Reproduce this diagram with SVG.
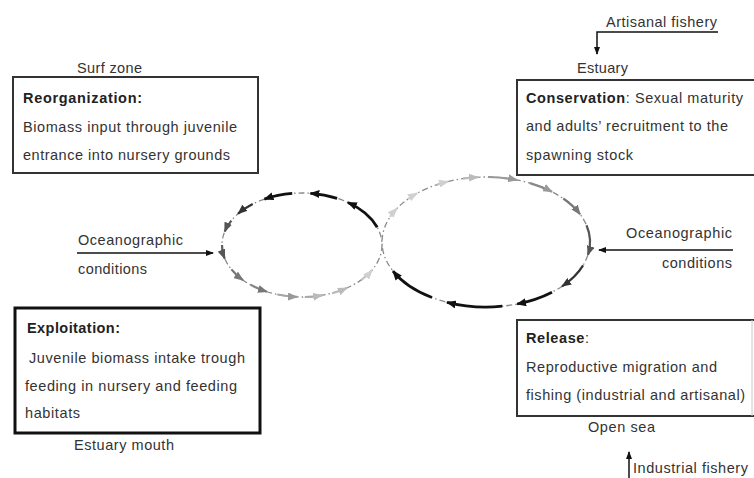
<svg xmlns="http://www.w3.org/2000/svg" width="754" height="478" viewBox="0 0 754 478">
<style>
text{font-family:"Liberation Sans",Arial,sans-serif;font-size:14.5px;fill:#333}
.b{font-weight:bold;fill:#222}
.box{fill:none;stroke:#333;stroke-width:2}
.base{fill:none;stroke:#8a8a8a;stroke-width:1.3;stroke-dasharray:6 3 1.5 3}
.a{fill:none;stroke-width:2.2}
.t{stroke-width:2.8}
.ext{fill:none;stroke:#111;stroke-width:1.5}
</style>
<defs>
<marker id="mk" viewBox="0 0 10 8" refX="9" refY="4" markerWidth="10" markerHeight="8" markerUnits="userSpaceOnUse" orient="auto"><path d="M0,0L10,4L0,8z" fill="#111"/></marker>
<marker id="me" viewBox="0 0 8 6" refX="7" refY="3" markerWidth="8" markerHeight="6" markerUnits="userSpaceOnUse" orient="auto"><path d="M0,0L8,3L0,6z" fill="#111"/></marker>
<marker id="m3" viewBox="0 0 10 8" refX="9" refY="4" markerWidth="10" markerHeight="8" markerUnits="userSpaceOnUse" orient="auto"><path d="M0,0L10,4L0,8z" fill="#333"/></marker>
<marker id="m5" viewBox="0 0 10 8" refX="9" refY="4" markerWidth="10" markerHeight="8" markerUnits="userSpaceOnUse" orient="auto"><path d="M0,0L10,4L0,8z" fill="#555"/></marker>
<marker id="m7" viewBox="0 0 10 8" refX="9" refY="4" markerWidth="10" markerHeight="8" markerUnits="userSpaceOnUse" orient="auto"><path d="M0,0L10,4L0,8z" fill="#777"/></marker>
<marker id="m9" viewBox="0 0 10 8" refX="9" refY="4" markerWidth="10" markerHeight="8" markerUnits="userSpaceOnUse" orient="auto"><path d="M0,0L10,4L0,8z" fill="#999"/></marker>
<marker id="mb" viewBox="0 0 10 8" refX="9" refY="4" markerWidth="10" markerHeight="8" markerUnits="userSpaceOnUse" orient="auto"><path d="M0,0L10,4L0,8z" fill="#bbb"/></marker>
<marker id="md" viewBox="0 0 10 8" refX="9" refY="4" markerWidth="10" markerHeight="8" markerUnits="userSpaceOnUse" orient="auto"><path d="M0,0L10,4L0,8z" fill="#d0d0d0"/></marker>
</defs>

<g id="node-reorganization">
<rect class="box" x="13" y="77" width="245" height="96"/>
<text x="77" y="73" textLength="65" lengthAdjust="spacing">Surf zone</text>
<text class="b" x="23" y="103" textLength="119" lengthAdjust="spacing">Reorganization:</text>
<text x="23" y="132" textLength="214" lengthAdjust="spacing">Biomass input through juvenile</text>
<text x="23" y="160" textLength="207" lengthAdjust="spacing">entrance into nursery grounds</text>
</g>

<g id="node-conservation">
<path class="box" d="M760,80H517V175H760"/>
<text x="577" y="73" textLength="51" lengthAdjust="spacing">Estuary</text>
<text x="526" y="103" textLength="217" lengthAdjust="spacing"><tspan class="b">Conservation</tspan>: Sexual maturity</text>
<text x="526" y="131" textLength="202" lengthAdjust="spacing">and adults’ recruitment to the</text>
<text x="526" y="160" textLength="107" lengthAdjust="spacing">spawning stock</text>
</g>

<g id="node-exploitation">
<rect x="15" y="308" width="245" height="125" fill="none" stroke="#111" stroke-width="3"/>
<text class="b" x="27" y="333" textLength="93" lengthAdjust="spacing">Exploitation:</text>
<text x="29" y="363" textLength="216" lengthAdjust="spacing">Juvenile biomass intake trough</text>
<text x="25" y="391" textLength="212" lengthAdjust="spacing">feeding in nursery and feeding</text>
<text x="25" y="418" textLength="55" lengthAdjust="spacing">habitats</text>
<text x="74" y="450" textLength="100" lengthAdjust="spacing">Estuary mouth</text>
</g>

<g id="node-release">
<path class="box" d="M760,320H517V416H760"/>
<line x1="752" y1="320" x2="752" y2="416" stroke="#c8c8c8" stroke-width="1"/>
<text x="526" y="343" textLength="63" lengthAdjust="spacing"><tspan class="b">Release</tspan>:</text>
<text x="526" y="372" textLength="191" lengthAdjust="spacing">Reproductive migration and</text>
<text x="526" y="400" textLength="219" lengthAdjust="spacing">fishing (industrial and artisanal)</text>
<text x="588" y="432" textLength="67" lengthAdjust="spacing">Open sea</text>
</g>

<g id="node-ocean-left">
<text x="78" y="245" textLength="105" lengthAdjust="spacing">Oceanographic</text>
<text x="78" y="274" textLength="69" lengthAdjust="spacing">conditions</text>
</g>
<g id="node-ocean-right">
<text x="626" y="238" textLength="106" lengthAdjust="spacing">Oceanographic</text>
<text x="662" y="268" textLength="70" lengthAdjust="spacing">conditions</text>
</g>
<g id="node-artisanal">
<text x="606" y="27" textLength="111" lengthAdjust="spacing">Artisanal fishery</text>
</g>
<g id="node-industrial">
<text x="633" y="473" textLength="115" lengthAdjust="spacing">Industrial fishery</text>
</g>

<g id="connectors">
<line class="ext" x1="77" y1="253" x2="213" y2="253" marker-end="url(#me)"/>
<line class="ext" x1="733" y1="250" x2="599" y2="250" marker-end="url(#me)"/>
<path class="ext" d="M718,32H597V54" marker-end="url(#me)"/>
<line class="ext" x1="629" y1="478" x2="629" y2="452" marker-end="url(#me)"/>

<ellipse class="base" cx="302" cy="245" rx="80" ry="52"/>
<ellipse class="base" cx="486" cy="242" rx="104" ry="65"/>

<path class="a t" stroke="#111" marker-end="url(#mk)" d="M377.2,227.2A80 52 0 0 0 347.9,202.4"/>
<path class="a t" stroke="#111" marker-end="url(#mk)" d="M337.1,198.3A80 52 0 0 0 310.4,193.3"/>
<path class="a t" stroke="#111" marker-end="url(#mk)" d="M292.2,193.4A80 52 0 0 0 264.4,199.1"/>
<path class="a" stroke="#333" marker-end="url(#m3)" d="M252.7,204A80 52 0 0 0 238.1,213.7"/>
<path class="a" stroke="#555" marker-end="url(#m5)" d="M231.4,220.6A80 52 0 0 0 224.7,231.5"/>
<path class="a" stroke="#5f5f5f" marker-end="url(#m5)" d="M222,245A80 52 0 0 0 224.7,258.5"/>
<path class="a" stroke="#777" marker-end="url(#m7)" d="M231.4,269.4A80 52 0 0 0 243,280.1"/>
<path class="a" stroke="#888" marker-end="url(#m7)" d="M250.6,284.8A80 52 0 0 0 266.9,291.7"/>
<path class="a" stroke="#a5a5a5" stroke-width="1.6" marker-end="url(#m9)" d="M277.3,294.5A80 52 0 0 0 297,296.9"/>
<path class="a" stroke="#aaa" stroke-width="1.6" marker-end="url(#mb)" d="M304.8,297A80 52 0 0 0 322,295.3"/>
<path class="a" stroke="#bbb" stroke-width="1.6" marker-end="url(#mb)" d="M332,293.2A80 52 0 0 0 347,288"/>
<path class="a" stroke="#c4c4c4" stroke-width="1.6" marker-end="url(#md)" d="M361.4,279.8A80 52 0 0 0 372,270.2"/>

<path class="a" stroke="#d0d0d0" stroke-width="1.6" marker-end="url(#md)" d="M390,217A104 65 0 0 1 396.9,208.5"/>
<path class="a" stroke="#d0d0d0" stroke-width="1.6" marker-end="url(#md)" d="M408,199A104 65 0 0 1 417.1,193.3"/>
<path class="a" stroke="#c4c4c4" stroke-width="1.6" marker-end="url(#md)" d="M437.2,184.6A104 65 0 0 1 448,181.5"/>
<path class="a" stroke="#bbb" stroke-width="1.6" marker-end="url(#mb)" d="M463,178.6A104 65 0 0 1 478,177.2"/>
<path class="a" stroke="#999" marker-end="url(#m9)" d="M488,177A104 65 0 0 1 517.1,180"/>
<path class="a" stroke="#888" marker-end="url(#m9)" d="M530,183.1A104 65 0 0 1 552,191.8"/>
<path class="a" stroke="#777" marker-end="url(#m7)" d="M563.3,198.5A104 65 0 0 1 580,214.2"/>
<path class="a" stroke="#555" marker-end="url(#m5)" d="M586.5,225.2A104 65 0 0 1 588,254.9"/>
<path class="a" stroke="#333" marker-end="url(#m3)" d="M583.1,265.3A104 65 0 0 1 562.1,286.3"/>
<path class="a t" stroke="#111" marker-end="url(#mk)" d="M552,292.2A104 65 0 0 1 517.1,304"/>
<path class="a t" stroke="#111" marker-end="url(#mk)" d="M502.3,306.2A104 65 0 0 1 447,302.3"/>
<path class="a t" stroke="#111" marker-end="url(#mk)" d="M432,297.5A104 65 0 0 1 393,271.1"/>
</g>
</svg>
